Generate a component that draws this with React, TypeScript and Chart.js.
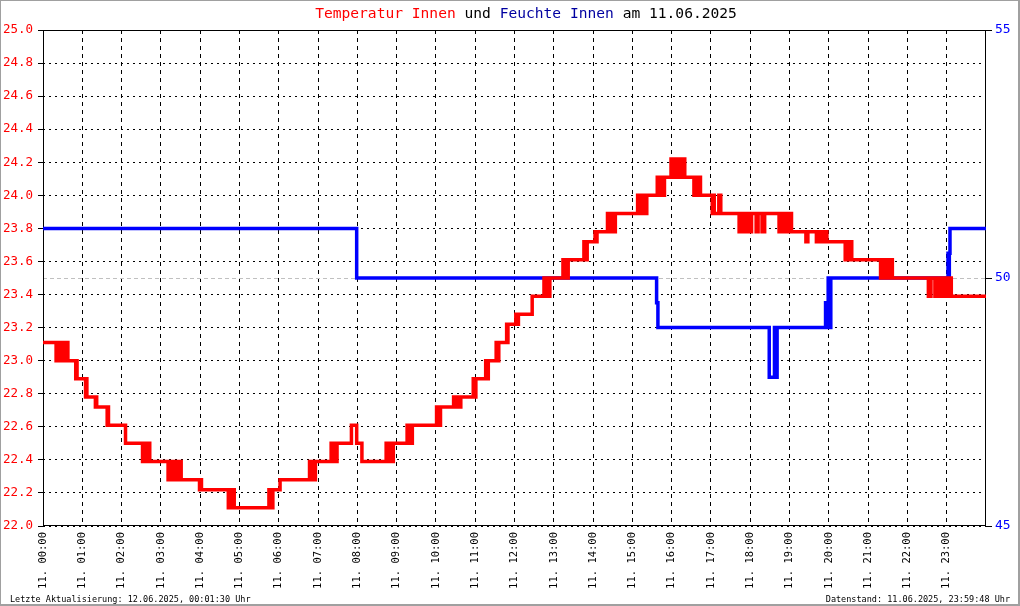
import React, { useEffect, useRef } from "react";
import { Chart, registerables } from "chart.js";

Chart.register(...registerables);

const FONT = '"DejaVu Sans Mono", "Liberation Mono", monospace';

// x axis: minutes since 00:00 on 11.06.2025
const hourTicks = [0, 60, 120, 180, 240, 300, 360, 420, 480, 540, 600, 660, 720, 780, 840, 900, 960, 1020, 1080, 1140, 1200, 1260, 1320, 1380];
const hourLabels = [
  "11. 00:00", "11. 01:00", "11. 02:00", "11. 03:00", "11. 04:00", "11. 05:00",
  "11. 06:00", "11. 07:00", "11. 08:00", "11. 09:00", "11. 10:00", "11. 11:00",
  "11. 12:00", "11. 13:00", "11. 14:00", "11. 15:00", "11. 16:00", "11. 17:00",
  "11. 18:00", "11. 19:00", "11. 20:00", "11. 21:00", "11. 22:00", "11. 23:00",
];
const tempTicks = [22.0, 22.2, 22.4, 22.6, 22.8, 23.0, 23.2, 23.4, 23.6, 23.8, 24.0, 24.2, 24.4, 24.6, 24.8, 25.0];
const humTicks = [45, 50, 55];

// [minute, °C]
const temperatur: [number, number][] = [
  [0, 23.11],
  [20, 23.0], [21, 23.11], [23, 23.0], [24, 23.11], [26, 23.0], [27, 23.11], [29, 23.0], [30, 23.11], [32, 23.0], [33, 23.11], [35, 23.0], [37, 23.11], [38, 23.0],
  [50, 22.89], [51, 23.0], [52, 22.89],
  [65, 22.78], [66, 22.89], [67, 22.78],
  [80, 22.72], [81, 22.78], [82, 22.72],
  [98, 22.61], [99, 22.72], [100, 22.61],
  [126, 22.5],
  [152, 22.39], [153, 22.5], [155, 22.39], [156, 22.5], [158, 22.39], [160, 22.5], [163, 22.39],
  [191, 22.28], [192, 22.39], [194, 22.28], [195, 22.39], [197, 22.28], [198, 22.39], [200, 22.28], [201, 22.39], [203, 22.28], [208, 22.39], [211, 22.28],
  [239, 22.22], [240, 22.28], [242, 22.22],
  [283, 22.11], [284, 22.22], [286, 22.11], [287, 22.22], [289, 22.11], [290, 22.22], [292, 22.11],
  [345, 22.22], [346, 22.11], [348, 22.22], [349, 22.11], [351, 22.22],
  [362, 22.28],
  [407, 22.39], [408, 22.28], [410, 22.39], [411, 22.28], [413, 22.39], [414, 22.28], [416, 22.39],
  [440, 22.5], [441, 22.39], [443, 22.5], [444, 22.39], [446, 22.5], [447, 22.39], [449, 22.5],
  [471, 22.61], [479, 22.5], [487, 22.39],
  [524, 22.5], [525, 22.39], [527, 22.5], [528, 22.39], [530, 22.5], [531, 22.39], [533, 22.5], [534, 22.39], [535, 22.5],
  [556, 22.61], [557, 22.5], [560, 22.61], [561, 22.5], [564, 22.61],
  [601, 22.72], [602, 22.61], [604, 22.72], [605, 22.61], [607, 22.72],
  [627, 22.78], [628, 22.72], [630, 22.78], [631, 22.72], [634, 22.78], [636, 22.72], [638, 22.78],
  [657, 22.89], [658, 22.78], [661, 22.89],
  [676, 23.0], [677, 22.89], [680, 23.0],
  [692, 23.11], [693, 23.0], [696, 23.11],
  [708, 23.22], [709, 23.11], [710, 23.22],
  [722, 23.28], [723, 23.22], [726, 23.28],
  [747, 23.39],
  [765, 23.5], [766, 23.39], [768, 23.5], [769, 23.39], [771, 23.5], [772, 23.39], [774, 23.5],
  [794, 23.61], [795, 23.5], [797, 23.61], [798, 23.5], [800, 23.61], [801, 23.5], [802, 23.61],
  [826, 23.72], [827, 23.61], [829, 23.72], [830, 23.61], [831, 23.72],
  [843, 23.78], [844, 23.72], [846, 23.78],
  [862, 23.89], [863, 23.78], [865, 23.89], [866, 23.78], [868, 23.89], [869, 23.78], [871, 23.89], [872, 23.78], [874, 23.89],
  [908, 24.0], [909, 23.89], [911, 24.0], [912, 23.89], [914, 24.0], [915, 23.89], [917, 24.0], [918, 23.89], [920, 24.0], [921, 23.89], [922, 24.0],
  [938, 24.11], [939, 24.0], [941, 24.11], [942, 24.0], [944, 24.11], [945, 24.0], [947, 24.11], [948, 24.0], [949, 24.11],
  [959, 24.22], [960, 24.11], [961, 24.22], [963, 24.11], [964, 24.22], [966, 24.11], [967, 24.22], [969, 24.11], [970, 24.22], [972, 24.11], [973, 24.22], [975, 24.11], [976, 24.22], [978, 24.11], [979, 24.22], [980, 24.11],
  [994, 24.0], [995, 24.11], [997, 24.0], [998, 24.11], [1001, 24.0], [1002, 24.11], [1004, 24.0],
  [1022, 23.89], [1023, 24.0], [1025, 23.89], [1032, 24.0], [1035, 23.89],
  [1063, 23.78], [1064, 23.89], [1066, 23.78], [1067, 23.89], [1069, 23.78], [1070, 23.89], [1072, 23.78], [1073, 23.89], [1075, 23.78], [1076, 23.89], [1078, 23.78], [1079, 23.89], [1081, 23.78], [1082, 23.89],
  [1089, 23.78], [1092, 23.89], [1098, 23.78], [1102, 23.89],
  [1124, 23.78], [1125, 23.89], [1127, 23.78], [1128, 23.89], [1130, 23.78], [1131, 23.89], [1133, 23.78], [1134, 23.89], [1136, 23.78], [1137, 23.89], [1139, 23.78], [1141, 23.89], [1143, 23.78],
  [1165, 23.72], [1168, 23.78],
  [1181, 23.72], [1183, 23.78], [1188, 23.72], [1190, 23.78], [1192, 23.72], [1193, 23.78], [1195, 23.72], [1196, 23.78], [1197, 23.72],
  [1225, 23.61], [1226, 23.72], [1228, 23.61], [1229, 23.72], [1231, 23.61], [1232, 23.72], [1235, 23.61],
  [1279, 23.5], [1280, 23.61], [1282, 23.5], [1283, 23.61], [1285, 23.5], [1286, 23.61], [1288, 23.5], [1289, 23.61], [1291, 23.5], [1293, 23.61], [1294, 23.5], [1296, 23.61], [1297, 23.5],
  [1352, 23.39], [1356, 23.5], [1362, 23.39], [1364, 23.5], [1366, 23.39], [1367, 23.5], [1369, 23.39], [1370, 23.5], [1372, 23.39], [1373, 23.5], [1375, 23.39], [1376, 23.5], [1378, 23.39], [1379, 23.5], [1381, 23.39], [1382, 23.5], [1384, 23.39], [1385, 23.5], [1387, 23.39],
  [1440, 23.39],
];

// [minute, %]
const feuchte: [number, number][] = [
  [0, 51], [479, 50],
  [937, 49.5], [939, 49],
  [1109, 48], [1117, 49], [1118, 48], [1121, 49],
  [1195, 49.5], [1196, 49], [1197, 49.5], [1199, 50], [1200, 49], [1201, 50], [1202, 49], [1203, 50],
  [1382, 50.5], [1383, 50], [1384, 50.5], [1385, 51],
  [1440, 51],
];

const titleParts: [string, string][] = [
  ["Temperatur Innen", "#ff0000"],
  [" und ", "#000000"],
  ["Feuchte Innen", "#0000a0"],
  [" am 11.06.2025", "#000000"],
];
const footerLeft = "Letzte Aktualisierung: 12.06.2025, 00:01:30 Uhr";
const footerRight = "Datenstand: 11.06.2025, 23:59:48 Uhr";

const decor = {
  id: "decor",
  beforeDatasetsDraw(chart: any) {
    const { ctx, chartArea: a } = chart;
    ctx.save();
    ctx.setLineDash([]);
    ctx.strokeStyle = "#000";
    ctx.lineWidth = 1;
    ctx.strokeRect(a.left + 0.5, a.top + 0.5, a.right - a.left - 1, a.bottom - a.top - 1);
    ctx.restore();
  },
  afterDraw(chart: any) {
    const { ctx, width, height } = chart;
    ctx.save();
    // title
    ctx.font = `14.6px ${FONT}`;
    ctx.textBaseline = "alphabetic";
    ctx.textAlign = "left";
    const total = titleParts.reduce((s, p) => s + ctx.measureText(p[0]).width, 0);
    let x = 526 - total / 2;
    for (const [t, c] of titleParts) {
      ctx.fillStyle = c;
      ctx.fillText(t, x, 18);
      x += ctx.measureText(t).width;
    }
    // footers
    ctx.font = `8.5px ${FONT}`;
    ctx.fillStyle = "#000";
    ctx.fillText(footerLeft, 10, 602);
    ctx.textAlign = "right";
    ctx.fillText(footerRight, 1010, 602);
    // outer border
    ctx.fillStyle = "#a0a0a0";
    ctx.fillRect(0, 0, width, 1);
    ctx.fillRect(0, 0, 1, height);
    ctx.fillRect(width - 2, 0, 2, height);
    ctx.fillRect(0, height - 2, width, 2);
    ctx.restore();
  },
};

export default function App() {
  const ref = useRef<HTMLCanvasElement | null>(null);

  useEffect(() => {
    document.body.style.margin = "0";
    const canvas = ref.current;
    if (!canvas) return;
    const chart = new Chart(canvas, {
      type: "line",
      data: {
        datasets: [
          {
            label: "Temperatur Innen",
            data: temperatur.map(([x, y]) => ({ x, y })),
            yAxisID: "y",
            borderColor: "#ff0000",
            borderWidth: 3.5,
            stepped: true,
            pointRadius: 0,
            borderJoinStyle: "miter",
            borderCapStyle: "butt",
            fill: false,
          },
          {
            label: "Feuchte Innen",
            data: feuchte.map(([x, y]) => ({ x, y })),
            yAxisID: "y1",
            borderColor: "#0000ff",
            borderWidth: 3.5,
            stepped: true,
            pointRadius: 0,
            borderJoinStyle: "miter",
            borderCapStyle: "butt",
            fill: false,
          },
        ],
      },
      options: {
        animation: false,
        responsive: false,
        devicePixelRatio: 1,
        events: [],
        layout: { padding: { top: 30, left: 0, right: 0, bottom: 0 } },
        plugins: {
          legend: { display: false },
          tooltip: { enabled: false },
          title: { display: false },
        },
        scales: {
          x: {
            type: "linear",
            position: "bottom",
            min: 0,
            max: 1440,
            afterBuildTicks: (s: any) => {
              s.ticks = hourTicks.map((v) => ({ value: v }));
            },
            afterFit: (s: any) => {
              s.height = 80;
            },
            ticks: {
              autoSkip: false,
              maxRotation: 90,
              minRotation: 90,
              padding: 6,
              color: "#000",
              font: { family: FONT, size: 10.5 },
              callback: (v: any) => {
                const i = hourTicks.indexOf(Number(v));
                return i >= 0 ? hourLabels[i] : "";
              },
            },
            grid: { color: "#000", lineWidth: 1, drawTicks: false },
            border: { display: false, dash: [4, 4] },
          },
          y: {
            type: "linear",
            position: "left",
            min: 22,
            max: 25,
            afterBuildTicks: (s: any) => {
              s.ticks = tempTicks.map((v) => ({ value: v }));
            },
            afterFit: (s: any) => {
              s.width = 43;
            },
            ticks: {
              color: "#ff0000",
              padding: 5,
              font: { family: FONT, size: 12.5 },
              callback: (v: any) => Number(v).toFixed(1),
            },
            grid: { color: "#000", lineWidth: 1, tickLength: 5, tickColor: "#000", drawTicks: true },
            border: { display: false, dash: [2, 4] },
          },
          y1: {
            type: "linear",
            position: "right",
            min: 45,
            max: 55,
            afterBuildTicks: (s: any) => {
              s.ticks = humTicks.map((v) => ({ value: v }));
            },
            afterFit: (s: any) => {
              s.width = 34;
            },
            ticks: {
              color: "#0000ff",
              padding: 3,
              font: { family: FONT, size: 13 },
              callback: (v: any) => String(v),
            },
            grid: {
              drawOnChartArea: true,
              color: (c: any) => (c.tick && c.tick.value === 50 ? "#c0c0c0" : "rgba(0,0,0,0)"),
              tickColor: "#000",
              tickLength: 6,
              lineWidth: 1,
            },
            border: { display: false, dash: [4, 3] },
          },
        },
      },
      plugins: [decor],
    } as any);
    return () => chart.destroy();
  }, []);

  return (
    <canvas
      ref={ref}
      width={1020}
      height={606}
      style={{ display: "block", width: "1020px", height: "606px", background: "#fff" }}
    />
  );
}
